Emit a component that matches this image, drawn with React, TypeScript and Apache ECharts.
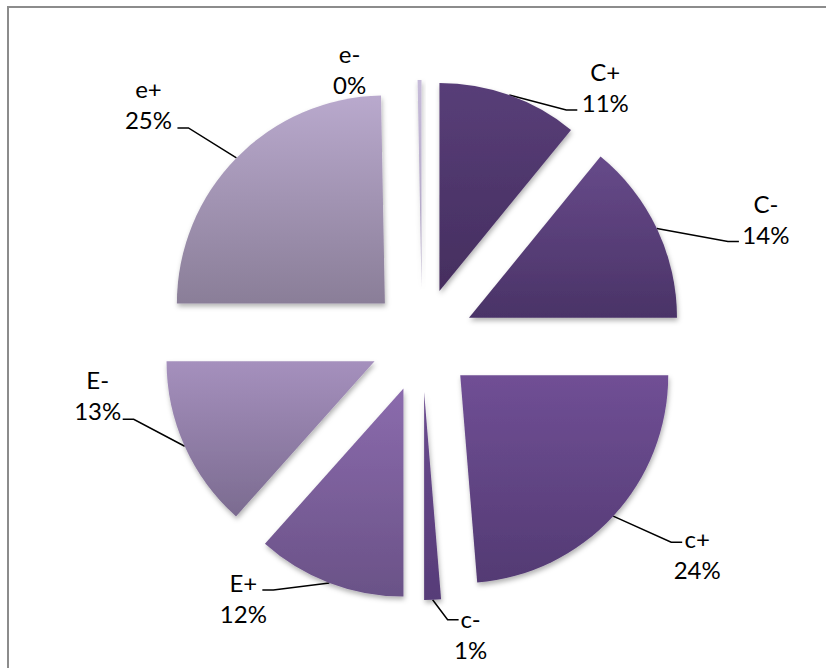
import React, { useEffect, useRef } from 'react';
import * as echarts from 'echarts';

// ---- data ----
const categories = ['C+', 'C-', 'c+', 'c-', 'E+', 'E-', 'e+', 'e-'];
const values = [10.9, 14.1, 23.7, 1.3, 11.6, 13.4, 24.7, 0.3];

// ---- styles ----
const topColors = ['#583e78', '#674a8a', '#704f95', '#6a4b8f', '#8b6bad', '#a590bd', '#b9a9cd', '#c6bbd9'];
const bottomColors = ['#452e5f', '#4a3367', '#533a73', '#573c78', '#6a5287', '#7b6b90', '#8a7e98', '#aca1c0'];

// label block centre, relative to the slice's outer arc point (layout)
const labelOffsets: number[][] = [
  [96, -8], [109, -10], [84, 38], [38, 34], [-86, 15], [-87, -51], [-88, -54], [-70, -11],
];
// end of leader line, relative to the arc point (null = no leader)
const leaderEnds: (number[] | null)[] = [
  [68, 15], [82, 13], [69, 26], [26, 20], [-67, 7], [-62, -27], [-59, -30], null,
];

const CX = 422;
const CY = 340;
const RADIUS = 208;
const EXPLODE = 52;
const HOOK = 11;

function bisectorAngles(vals: number[]): number[] {
  const total = vals.reduce((a, b) => a + b, 0);
  let acc = 0;
  return vals.map((v) => {
    const start = acc;
    acc += (v / total) * 360;
    return (start + acc) / 2;
  });
}

export default function App() {
  const ref = useRef<HTMLDivElement>(null);

  useEffect(() => {
    if (!ref.current) return;
    const chart = echarts.init(ref.current, undefined, { renderer: 'svg' });
    const angles = bisectorAngles(values);

    const series = categories.map((_, i) => {
      const t = (angles[i] * Math.PI) / 180;
      const ux = Math.sin(t);
      const uy = -Math.cos(t);
      const cx = CX + EXPLODE * ux;
      const cy = CY + EXPLODE * uy;
      const ax = cx + RADIUS * ux;
      const ay = cy + RADIUS * uy;
      return {
        type: 'pie',
        silent: true,
        center: [cx, cy],
        radius: RADIUS,
        startAngle: 90,
        clockwise: true,
        avoidLabelOverlap: false,
        label: { show: false },
        labelLine: { show: false },
        itemStyle: { borderWidth: 0 },
        emphasis: { disabled: true },
        data: categories.map((name, j) =>
          j === i
            ? {
                name,
                value: values[j],
                itemStyle: {
                  color: new echarts.graphic.LinearGradient(0, 0, 0, 1, [
                    { offset: 0, color: topColors[j] },
                    { offset: 1, color: bottomColors[j] },
                  ]),
                  borderWidth: 0,
                  shadowBlur: 5,
                  shadowColor: 'rgba(0,0,0,0.3)',
                  shadowOffsetX: 1,
                  shadowOffsetY: 3,
                },
                label: {
                  show: true,
                  position: 'outside',
                  formatter: (p: any) => `{a|${p.name}}\n{a|${Math.round(p.percent)}%}`,
                  rich: {
                    a: {
                      fontFamily: 'Lato',
                      fontSize: 24,
                      lineHeight: 31,
                      color: '#000',
                      align: 'center',
                    },
                  },
                },
                labelLine: {
                  show: leaderEnds[j] != null,
                  lineStyle: { color: '#000', width: 1.5 },
                },
              }
            : {
                name,
                value: values[j],
                itemStyle: { color: 'rgba(0,0,0,0)', borderWidth: 0 },
                label: { show: false },
                labelLine: { show: false },
              }
        ),
        labelLayout: (p: any) => {
          if (p.dataIndex !== i) return {};
          const off = labelOffsets[i];
          const res: any = {
            x: ax + off[0],
            y: ay + off[1],
            align: 'center',
            verticalAlign: 'middle',
          };
          const end = leaderEnds[i];
          if (end) {
            const ex = ax + end[0];
            const ey = ay + end[1];
            const bx = ex - Math.sign(end[0]) * HOOK;
            res.labelLinePoints = [
              [ax, ay],
              [bx, ey],
              [ex, ey],
            ];
          }
          return res;
        },
      };
    });

    chart.setOption({
      animation: false,
      backgroundColor: '#ffffff',
      graphic: [
        {
          type: 'rect',
          shape: { x: 8, y: 7, width: 840, height: 690 },
          style: { fill: 'none', stroke: '#8c8c8c', lineWidth: 2 },
          silent: true,
        },
      ],
      series,
    } as any);

    return () => chart.dispose();
  }, []);

  return (
    <div
      ref={ref}
      style={{ position: 'fixed', left: 0, top: 0, width: 826, height: 668 }}
    />
  );
}
